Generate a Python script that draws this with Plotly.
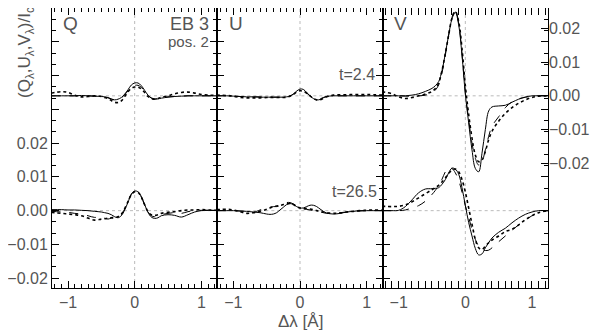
import plotly.graph_objects as go

# ---------------- data ----------------
wl = [-1.25, -1.1, -1.0, -0.9, -0.8, -0.7, -0.6, -0.5, -0.45, -0.4, -0.35, -0.3, -0.25, -0.2, -0.15, -0.1, -0.05,
      0.0, 0.05, 0.1, 0.15, 0.2, 0.25, 0.3, 0.35, 0.4, 0.5, 0.6, 0.7, 0.8, 0.9, 1.0, 1.1, 1.25]

offset_t1 = 0.034  # vertical shift of the t=2.4 profiles

q_t1_solid = [0, 0, 0, 0, 0.0001, 0, -0.0001, -0.0002, -0.0003, -0.0005, -0.0009, -0.0012, -0.001, -0.0005, 0.0005, 0.0018, 0.0032, 0.0038, 0.0038, 0.003, 0.0016, 0.0002, -0.0007, -0.001, -0.0009, -0.0007, -0.0004, -0.0002, -0.0001, 0, 0, 0, 0, 0]
q_t1_dash = [0, 0, 0, 0, 0, 0, -0.0001, -0.0002, -0.0004, -0.0006, -0.001, -0.0012, -0.0011, -0.0006, 0.0003, 0.0015, 0.0026, 0.0031, 0.0031, 0.0025, 0.0013, 0.0001, -0.0006, -0.0009, -0.0008, -0.0006, -0.0003, -0.0002, -0.0001, 0, 0, 0, 0, 0]
q_t1_dot = [0.0008, 0.0012, 0.001, 0.0002, -0.0003, -0.0002, 0, -0.0002, -0.0005, -0.0008, -0.0014, -0.0019, -0.002, -0.0015, -0.0002, 0.0012, 0.0022, 0.0026, 0.0026, 0.002, 0.001, -0.0002, -0.0008, -0.001, -0.0008, -0.0004, 0, 0.0006, 0.001, 0.0011, 0.0008, 0.0004, 0.0002, 0.0001]
q_t2_solid = [0.0003, 0.0003, 0.0002, 0.0002, 0.0001, 0, -0.0002, -0.0004, -0.0006, -0.0008, -0.0012, -0.0018, -0.0021, -0.0015, 0.0002, 0.0025, 0.0048, 0.0058, 0.0056, 0.0042, 0.0018, -0.0005, -0.0019, -0.0023, -0.0021, -0.0015, -0.0012, -0.0014, -0.0019, -0.0012, -0.0004, 0, 0.0001, 0.0001]
q_t2_dash = [-0.0002, -0.0004, -0.0005, -0.0008, -0.001, -0.0015, -0.002, -0.0018, -0.0022, -0.0025, -0.0022, -0.0022, -0.0022, -0.0012, 0.0005, 0.0028, 0.0049, 0.0058, 0.0055, 0.004, 0.0016, -0.0004, -0.0015, -0.0018, -0.0015, -0.0012, -0.0008, -0.0006, -0.0008, -0.0003, 0, 0.0001, 0.0001, 0]
q_t2_dot = [-0.0005, -0.0008, -0.001, -0.0012, -0.0015, -0.0022, -0.0028, -0.0025, -0.0024, -0.0022, -0.0021, -0.002, -0.0018, -0.001, 0.0006, 0.0027, 0.0047, 0.0056, 0.0054, 0.004, 0.0017, -0.0003, -0.0012, -0.0014, -0.0012, -0.0008, -0.0005, -0.0003, 0, 0.0002, 0.0002, 0.0003, 0.0002, 0.0001]

u_t1_solid = [0, 0, -0.0001, -0.0002, -0.0003, -0.0003, -0.0004, -0.0004, -0.0004, -0.0004, -0.0004, -0.0004, -0.0004, -0.0003, -0.0001, 0.0005, 0.0014, 0.002, 0.0019, 0.001, 0, -0.0008, -0.0012, -0.0011, -0.0006, -0.0002, 0, 0, 0, 0, 0, 0, 0, 0]
u_t1_dash = [0, 0, -0.0001, -0.0002, -0.0002, -0.0003, -0.0003, -0.0003, -0.0003, -0.0004, -0.0004, -0.0004, -0.0003, -0.0002, 0, 0.0005, 0.0012, 0.0016, 0.0015, 0.0008, 0, -0.0007, -0.001, -0.0009, -0.0005, -0.0002, 0, 0, 0, 0, 0, 0, 0, 0]
u_t1_dot = [0.0002, 0.0001, -0.0001, -0.0005, -0.0006, -0.0006, -0.0006, -0.0005, -0.0005, -0.0005, -0.0005, -0.0005, -0.0005, -0.0004, -0.0001, 0.0004, 0.0011, 0.0015, 0.0013, 0.0008, 0, -0.0008, -0.0012, -0.0012, -0.0008, -0.0003, 0.0002, 0.0003, 0.0003, 0.0004, 0.0004, 0.0004, 0.0003, 0.0002]
u_t2_solid = [0, 0, 0, -0.0001, -0.0002, -0.0004, -0.0006, -0.001, -0.0011, -0.001, -0.0006, 0.0002, 0.001, 0.0018, 0.0021, 0.0018, 0.0012, 0.0008, 0.0008, 0.0012, 0.0016, 0.0016, 0.0012, 0.0005, -0.0002, -0.0007, -0.001, -0.0008, -0.0004, -0.0002, 0, 0, 0, 0]
u_t2_dash = [0, 0, 0, -0.0001, -0.0003, -0.0005, 0.0002, 0.0008, 0.001, 0.0012, 0.0012, 0.0015, 0.002, 0.0024, 0.0024, 0.002, 0.0015, 0.001, 0.0006, 0.0004, 0.0002, 0, -0.0002, -0.0004, -0.0006, -0.0008, -0.0008, -0.0006, -0.0004, -0.0002, -0.0001, 0, 0, 0]
u_t2_dot = [0.0003, 0.0004, 0.0002, -0.0003, -0.0008, -0.0006, -0.0002, 0.0004, 0.0008, 0.0012, 0.0014, 0.0015, 0.0018, 0.002, 0.0021, 0.0018, 0.0012, 0.0008, 0.0006, 0.0006, 0.0005, 0.0003, 0, -0.0002, -0.0004, -0.0006, -0.0008, -0.0007, -0.0004, -0.0002, 0, 0.0001, 0.0002, 0.0001]

v_t1_solid = [0, 0, 0, 0, 0.0002, 0.0006, 0.0013, 0.0022, 0.003, 0.0042, 0.0075, 0.0125, 0.018, 0.0228, 0.0248, 0.021, 0.012, 0.0005, -0.008, -0.016, -0.0215, -0.0225, -0.017, -0.01, -0.0045, -0.0033, -0.003, -0.0028, -0.0019, -0.001, -0.0004, 0, 0, 0]
v_t1_dash = [0, 0, 0, -0.0001, -0.0001, 0, 0.0002, 0.0009, 0.0017, 0.0032, 0.0068, 0.012, 0.018, 0.0232, 0.0255, 0.0215, 0.0125, 0.001, -0.007, -0.014, -0.0185, -0.0205, -0.0195, -0.016, -0.012, -0.009, -0.0062, -0.0035, -0.0018, -0.0009, -0.0004, -0.0001, 0, 0]
v_t1_dot = [0.0012, 0.0006, -0.0003, -0.0008, -0.0005, 0, 0.0005, 0.0013, 0.0022, 0.0038, 0.0075, 0.0125, 0.018, 0.023, 0.025, 0.022, 0.014, 0.003, -0.0055, -0.0125, -0.0175, -0.0195, -0.019, -0.0165, -0.013, -0.0105, -0.0075, -0.0052, -0.0035, -0.0022, -0.0012, -0.0005, -0.0001, 0]
v_t2_solid = [0, 0, 0.0001, 0.0012, 0.0032, 0.0053, 0.0064, 0.0065, 0.0066, 0.0068, 0.0078, 0.0092, 0.0112, 0.0126, 0.0123, 0.0108, 0.0068, 0.0015, -0.0035, -0.0075, -0.0112, -0.0131, -0.0128, -0.011, -0.0095, -0.0081, -0.0064, -0.0052, -0.0036, -0.0022, -0.0011, -0.0004, 0, 0]
v_t2_dash = [0, 0, 0, 0.0002, 0.0008, 0.0015, 0.0028, 0.0048, 0.006, 0.0075, 0.0093, 0.0115, 0.0128, 0.0125, 0.0112, 0.009, 0.0055, 0.0015, -0.002, -0.0055, -0.0085, -0.0105, -0.0115, -0.0118, -0.0117, -0.011, -0.0092, -0.0075, -0.0058, -0.0042, -0.0028, -0.0015, -0.0005, 0]
v_t2_dot = [0.0013, 0.0012, 0.0013, 0.0017, 0.0026, 0.0038, 0.005, 0.0062, 0.0068, 0.0075, 0.0085, 0.0097, 0.011, 0.012, 0.0123, 0.0115, 0.0092, 0.0055, 0.0008, -0.004, -0.0085, -0.011, -0.0115, -0.0105, -0.0095, -0.0087, -0.0075, -0.0062, -0.0055, -0.0042, -0.0027, -0.0015, -0.0006, 0]

panel_names = ["Q", "U", "V"]
x_tickvals = [-1, 0, 1]
x_ticktext = ["\u22121", "0", "1"]
y_tickvals = [-0.02, -0.01, 0.0, 0.01, 0.02]
y_ticktext = ["\u22120.02", "\u22120.01", "0.00", "0.01", "0.02"]

# ---------------- figure ----------------
GRAY = "#555555"
FONT = "Liberation Sans"
fig = go.Figure()

panels = [
    ("x", "y", [q_t1_solid, q_t1_dash, q_t1_dot], [q_t2_solid, q_t2_dash, q_t2_dot]),
    ("x2", "y2", [u_t1_solid, u_t1_dash, u_t1_dot], [u_t2_solid, u_t2_dash, u_t2_dot]),
    ("x3", "y3", [v_t1_solid, v_t1_dash, v_t1_dot], [v_t2_solid, v_t2_dash, v_t2_dot]),
]
styles = [("solid", 1.0), ("dash", 1.0), ("dot", 1.6)]
REF = dict(color="#aaaaaa", width=0.8, dash="3px,3px")

for xa, ya, top, bottom in panels:
    for yv in (0.0, offset_t1):
        fig.add_shape(type="line", xref=xa, yref=ya, x0=-1.24, x1=1.24, y0=yv, y1=yv, line=REF, layer="below")
    fig.add_shape(type="line", xref=xa, yref=ya, x0=0, x1=0, y0=-0.0229, y1=0.06, line=REF, layer="below")
    for vals, (dash, w) in zip(top, styles):
        fig.add_trace(go.Scatter(x=wl, y=[v + offset_t1 for v in vals], xaxis=xa, yaxis=ya,
                                 mode="lines", line=dict(color="black", width=w, dash=dash, shape="spline"),
                                 showlegend=False, hoverinfo="skip"))
    for vals, (dash, w) in zip(bottom, styles):
        fig.add_trace(go.Scatter(x=wl, y=vals, xaxis=xa, yaxis=ya,
                                 mode="lines", line=dict(color="black", width=w, dash=dash, shape="spline"),
                                 showlegend=False, hoverinfo="skip"))

# invisible trace so the right-hand (t=2.4) axis is drawn
fig.add_trace(go.Scatter(x=[wl[0]], y=[offset_t1], xaxis="x3", yaxis="y4", mode="markers",
                         marker=dict(opacity=0), showlegend=False, hoverinfo="skip"))

XR = [-1.24, 1.24]
YR = [-0.0229, 0.0600]
TF = dict(family=FONT, size=16, color=GRAY)

xcommon = dict(range=XR, tickvals=x_tickvals, ticktext=x_ticktext, ticks="inside", ticklen=7,
               mirror="allticks", showline=True, linecolor="black", linewidth=1, tickcolor="black",
               showgrid=False, zeroline=False, tickfont=TF,
               minor=dict(dtick=0.1, ticks="inside", ticklen=4, tickcolor="black", showgrid=False))
ycommon = dict(range=YR, ticks="inside", ticklen=7, mirror="allticks", showline=True, linecolor="black",
               linewidth=1, tickcolor="black", showgrid=False, zeroline=False,
               tickvals=[-0.02, -0.01, 0.0, 0.01, 0.02, 0.03, 0.04, 0.05],
               minor=dict(dtick=0.01 / 3, tick0=0, ticks="inside", ticklen=4, tickcolor="black", showgrid=False))

fig.update_layout(
    width=592, height=327,
    margin=dict(l=44, r=52, t=0, b=47),
    paper_bgcolor="white", plot_bgcolor="white",
    xaxis=dict(domain=[0, 1 / 3], anchor="y", **xcommon),
    xaxis2=dict(domain=[1 / 3, 2 / 3], anchor="y2", **xcommon),
    xaxis3=dict(domain=[2 / 3, 1], anchor="y3", **xcommon),
    yaxis=dict(anchor="x", ticktext=y_ticktext + ["", "", ""], showticklabels=True, tickfont=TF, **ycommon),
    yaxis2=dict(anchor="x2", matches="y", showticklabels=False, **ycommon),
    yaxis3=dict(anchor="x3", matches="y", showticklabels=False, **ycommon),
    yaxis4=dict(overlaying="y3", anchor="x3", side="right", range=YR,
                tickvals=[v + offset_t1 for v in y_tickvals], ticktext=y_ticktext,
                ticks="inside", ticklen=7, tickcolor="black", showline=False, showgrid=False, zeroline=False,
                tickfont=TF),
)

ann_font = dict(family=FONT, color=GRAY)
for xa, name in zip(["x", "x2", "x3"], panel_names):
    fig.add_annotation(x=-1.1, y=0.0553, xref=xa, yref="y", text=name, showarrow=False,
                       xanchor="left", yanchor="middle", font=dict(size=19, **ann_font))
fig.add_annotation(x=1.14, y=0.0553, xref="x", yref="y", text="EB 3", showarrow=False,
                   xanchor="right", yanchor="middle", font=dict(size=18, **ann_font))
fig.add_annotation(x=1.14, y=0.0502, xref="x", yref="y", text="pos. 2", showarrow=False,
                   xanchor="right", yanchor="middle", font=dict(size=15, **ann_font))
fig.add_annotation(x=1.16, y=0.0403, xref="x2", yref="y", text="t=2.4", showarrow=False,
                   xanchor="right", yanchor="middle", font=dict(size=16, **ann_font))
fig.add_annotation(x=1.18, y=0.0058, xref="x2", yref="y", text="t=26.5", showarrow=False,
                   xanchor="right", yanchor="middle", font=dict(size=16, **ann_font))

fig.add_annotation(x=-0.052, y=0.84, xref="paper", yref="paper", textangle=-90,
                   text="(Q<sub>\u03bb</sub>,U<sub>\u03bb</sub>,V<sub>\u03bb</sub>)/I<sub>c</sub>",
                   showarrow=False, xanchor="center", yanchor="middle", font=dict(size=17, **ann_font))
fig.add_annotation(x=0.5, y=-0.118, xref="paper", yref="paper", text="\u0394\u03bb [\u00c5]",
                   showarrow=False, xanchor="center", yanchor="middle", font=dict(size=17, **ann_font))

fig.write_html("out.html")
